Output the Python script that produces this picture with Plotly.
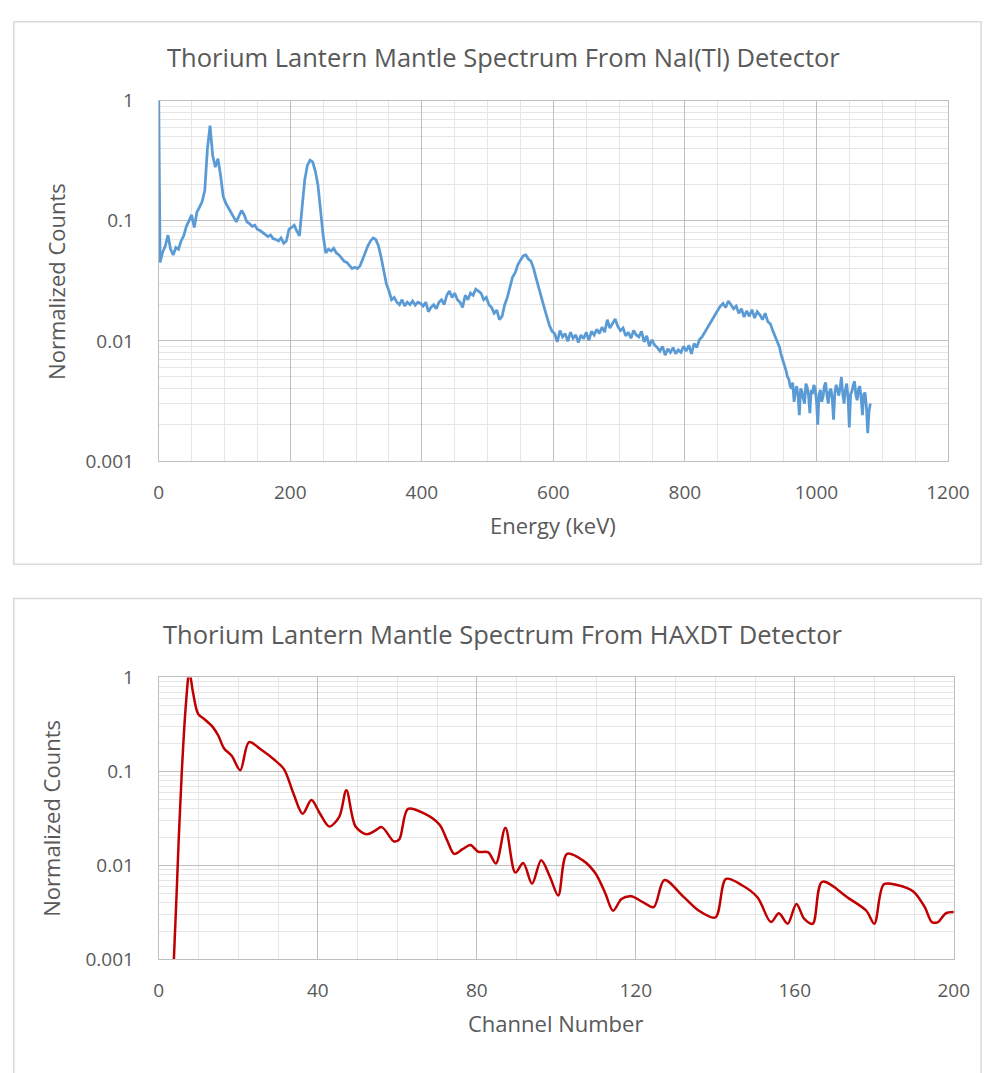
import plotly.graph_objects as go

# ---------------- Top chart data: NaI(Tl) spectrum ----------------
# energy grid (keV): first point at 0, every 4 keV from 2 to 938, then every 2 keV to 1082
nai_energy = [0] + list(range(2, 942, 4)) + list(range(942, 1083, 2))
nai_counts = [
    1.0,
    # 2 .. 38
    0.045, 0.055, 0.062, 0.076, 0.058, 0.052, 0.060, 0.058, 0.068, 0.075,
    # 42 .. 78
    0.090, 0.100, 0.112, 0.088, 0.118, 0.130, 0.145, 0.180, 0.400, 0.620,
    # 82 .. 118
    0.350, 0.280, 0.330, 0.240, 0.160, 0.140, 0.128, 0.115, 0.105, 0.098,
    # 122 .. 158
    0.110, 0.122, 0.112, 0.098, 0.095, 0.090, 0.092, 0.085, 0.083, 0.080,
    # 162 .. 198
    0.078, 0.074, 0.076, 0.071, 0.070, 0.068, 0.072, 0.065, 0.068, 0.085,
    # 202 .. 238
    0.088, 0.092, 0.082, 0.075, 0.130, 0.220, 0.290, 0.320, 0.310, 0.260,
    # 242 .. 278
    0.200, 0.125, 0.075, 0.054, 0.058, 0.056, 0.059, 0.054, 0.052, 0.049,
    # 282 .. 318
    0.046, 0.045, 0.042, 0.040, 0.041, 0.040, 0.042, 0.048, 0.055, 0.062,
    # 322 .. 358
    0.068, 0.072, 0.070, 0.062, 0.050, 0.038, 0.030, 0.026, 0.022, 0.023,
    # 362 .. 398
    0.021, 0.020, 0.022, 0.0195, 0.021, 0.020, 0.0215, 0.0198, 0.021, 0.0205,
    # 402 .. 438
    0.0195, 0.021, 0.0175, 0.019, 0.020, 0.0185, 0.021, 0.022, 0.020, 0.024,
    # 442 .. 478
    0.026, 0.023, 0.025, 0.022, 0.021, 0.019, 0.024, 0.022, 0.025, 0.024,
    # 482 .. 518
    0.027, 0.026, 0.025, 0.022, 0.023, 0.020, 0.019, 0.017, 0.018, 0.015,
    # 522 .. 558
    0.016, 0.020, 0.023, 0.028, 0.034, 0.037, 0.043, 0.047, 0.051, 0.052,
    # 562 .. 598
    0.048, 0.046, 0.040, 0.033, 0.027, 0.023, 0.019, 0.016, 0.0135, 0.012,
    # 602 .. 638
    0.0115, 0.0098, 0.0122, 0.0108, 0.0115, 0.0099, 0.0118, 0.0105, 0.0112, 0.0097,
    # 642 .. 678
    0.0112, 0.0104, 0.0118, 0.0101, 0.0120, 0.0112, 0.0125, 0.0115, 0.0130, 0.0118,
    # 682 .. 718
    0.0150, 0.0128, 0.0140, 0.0152, 0.0132, 0.0122, 0.0128, 0.0110, 0.0118, 0.0105,
    # 722 .. 758
    0.0122, 0.0112, 0.0108, 0.0120, 0.0098, 0.0110, 0.0090, 0.0102, 0.0092, 0.0088,
    # 762 .. 798
    0.0082, 0.0090, 0.0076, 0.0086, 0.0080, 0.0088, 0.0078, 0.0084, 0.0080, 0.0090,
    # 802 .. 838
    0.0082, 0.0092, 0.0078, 0.0095, 0.0088, 0.0102, 0.0108, 0.0118, 0.0128, 0.0140,
    # 842 .. 878
    0.0150, 0.0165, 0.0180, 0.0195, 0.0205, 0.0190, 0.0215, 0.0200, 0.0185, 0.0195,
    # 882 .. 918
    0.0170, 0.0185, 0.0158, 0.0178, 0.0160, 0.0182, 0.0155, 0.0175, 0.0165, 0.0150,
    # 922 .. 938
    0.0170, 0.0145, 0.0138, 0.0120, 0.0105,
    # 942 .. 960 (2 keV steps)
    0.0095, 0.0088, 0.0078, 0.0072, 0.0068, 0.0060, 0.0056, 0.0050, 0.0048, 0.0042,
    # 962 .. 980
    0.0040, 0.0045, 0.0031, 0.0038, 0.0042, 0.0035, 0.0024, 0.0040, 0.0038, 0.0033,
    # 982 .. 1000
    0.0030, 0.0044, 0.0041, 0.0035, 0.0025, 0.0039, 0.0036, 0.0043, 0.0040, 0.0032,
    # 1002 .. 1020
    0.0020, 0.0036, 0.0039, 0.0031, 0.0034, 0.0042, 0.0045, 0.0035, 0.0030, 0.0038,
    # 1022 .. 1040
    0.0040, 0.0033, 0.0022, 0.0037, 0.0043, 0.0039, 0.0035, 0.0041, 0.0050, 0.0036,
    # 1042 .. 1060
    0.0030, 0.0039, 0.0044, 0.0034, 0.0019, 0.0036, 0.0038, 0.0043, 0.0046, 0.0035,
    # 1062 .. 1080
    0.0032, 0.0040, 0.0042, 0.0033, 0.0024, 0.0036, 0.0037, 0.0028, 0.0017, 0.0026,
    # 1082
    0.0030,
]

# ---------------- Bottom chart data: HAXDT spectrum ----------------
haxdt_channel = [
    3.0, 3.8, 5.0, 5.8, 6.8, 7.7, 8.6, 9.9, 11.5, 13.5,
    15.0, 16.4, 18.4, 20.5, 22.7, 25.8, 29.0, 31.5, 33.9, 36.2,
    38.4, 40.5, 42.9, 45.4, 47.2, 49.5, 52.3, 54.3, 56.1, 59.2,
    60.5, 62.7, 66.6, 70.6, 72.6, 74.3, 76.5, 78.4, 80.4, 82.9,
    84.8, 87.2, 89.7, 91.7, 93.9, 96.2, 98.4, 100.5, 102.7, 106.6,
    109.8, 112.3, 114.3, 116.4, 118.8, 122.1, 124.5, 127.2, 131.9, 135.9,
    140.0, 142.7, 146.6, 150.6, 154.0, 156.0, 158.2, 160.4, 162.4, 164.5,
    166.9, 173.5, 178.0, 180.0, 182.4, 185.7, 189.8, 192.7, 194.5, 196.0,
    198.0, 200.0,
]
haxdt_counts = [
    0.0003, 0.001, 0.018, 0.1, 0.5, 1.15, 0.7, 0.41, 0.36, 0.30,
    0.24, 0.177, 0.146, 0.103, 0.205, 0.17, 0.134, 0.106, 0.058, 0.0355,
    0.0496, 0.036, 0.026, 0.033, 0.063, 0.026, 0.0215, 0.0233, 0.0256, 0.018,
    0.019, 0.040, 0.036, 0.0273, 0.0183, 0.0133, 0.015, 0.0165, 0.0140, 0.0138,
    0.0105, 0.0252, 0.0084, 0.0106, 0.0064, 0.0114, 0.0076, 0.0048, 0.0133, 0.0114,
    0.0083, 0.0051, 0.0033, 0.0044, 0.0047, 0.0040, 0.0036, 0.0070, 0.0047, 0.0033,
    0.0028, 0.0072, 0.0062, 0.0046, 0.0025, 0.0031, 0.0024, 0.0039, 0.0027, 0.0024,
    0.0067, 0.0045, 0.0033, 0.0024, 0.0063, 0.0062, 0.0053, 0.0036, 0.0025, 0.0025,
    0.0031, 0.0032,
]

y_tickvals = [0.001, 0.01, 0.1, 1]
y_ticktext = ["0.001", "0.01", "0.1", "1"]
top_xticks = [0, 200, 400, 600, 800, 1000, 1200]
bot_xticks = [0, 40, 80, 120, 160, 200]

TXT = "#595959"
FONT = "Open Sans"
MAJ = "#BFBFBF"
MIN = "#E6E6E6"
W, H = 1005, 1073

fig = go.Figure()
fig.add_trace(go.Scatter(x=nai_energy, y=nai_counts, mode="lines",
                         line=dict(color="#5B9BD5", width=2.75),
                         xaxis="x", yaxis="y", showlegend=False))
fig.add_trace(go.Scatter(x=haxdt_channel, y=haxdt_counts, mode="lines",
                         line=dict(color="#C00000", width=2.5, shape="spline", smoothing=0.9),
                         xaxis="x2", yaxis="y2", showlegend=False))


def px_x(p):
    return p / W


def px_y(p):
    return 1 - p / H


def xax(domain, rng, ticks, minor_dtick, anchor):
    return dict(domain=domain, range=rng, tickvals=ticks,
                ticktext=[str(t) for t in ticks], anchor=anchor,
                showgrid=True, gridcolor=MAJ, gridwidth=1,
                minor=dict(dtick=minor_dtick, showgrid=True, gridcolor=MIN, gridwidth=1),
                showline=True, linecolor=MAJ, linewidth=1, mirror=True,
                ticks="", zeroline=False, ticklabelstandoff=14,
                tickfont=dict(family=FONT, size=19, color=TXT))


def yax(domain, anchor):
    return dict(domain=domain, type="log", range=[-3, 0], tickvals=y_tickvals,
                ticktext=y_ticktext, anchor=anchor,
                showgrid=True, gridcolor=MAJ, gridwidth=1,
                minor=dict(dtick="D1", showgrid=True, gridcolor=MIN, gridwidth=1),
                showline=True, linecolor=MAJ, linewidth=1, mirror=True,
                ticks="", zeroline=False, ticklabelstandoff=20,
                tickfont=dict(family=FONT, size=19, color=TXT))


fig.update_layout(
    width=W, height=H,
    margin=dict(l=0, r=0, t=0, b=0),
    paper_bgcolor="white", plot_bgcolor="white",
    xaxis=xax([px_x(158), px_x(969)], [0, 1200], top_xticks, 50, "y"),
    yaxis=yax([px_y(459), px_y(90)], "x"),
    xaxis2=xax([px_x(158), px_x(975)], [0, 200], bot_xticks, 10, "y2"),
    yaxis2=yax([px_y(970), px_y(681)], "x2"),
)

# chart borders
for (x0, y0, x1, y1) in [(9, 9, 1003, 565), (9, 600, 1003, 1090)]:
    fig.add_shape(type="rect", xref="paper", yref="paper",
                  x0=px_x(x0), x1=px_x(x1), y0=px_y(y0), y1=px_y(y1),
                  line=dict(color="#D9D9D9", width=1.5), layer="below")


def ann(text, x, y, size, angle=0):
    fig.add_annotation(text=text, xref="paper", yref="paper",
                       x=px_x(x), y=px_y(y), xanchor="center", yanchor="middle",
                       showarrow=False, textangle=angle,
                       font=dict(family=FONT, size=size, color=TXT))


ann("Thorium Lantern Mantle Spectrum From NaI(Tl) Detector", 512, 45, 25.5)
ann("Normalized Counts", 53, 275, 22, -90)
ann("Energy (keV)", 563, 525, 22)
ann("Thorium Lantern Mantle Spectrum From HAXDT Detector", 512, 636, 25.5)
ann("Normalized Counts", 47, 825, 22, -90)
ann("Channel Number", 566, 1035, 22)

fig.write_html("out.html", config={"displayModeBar": False},
               post_script="document.body.style.margin='0';document.body.style.overflow='hidden';")
